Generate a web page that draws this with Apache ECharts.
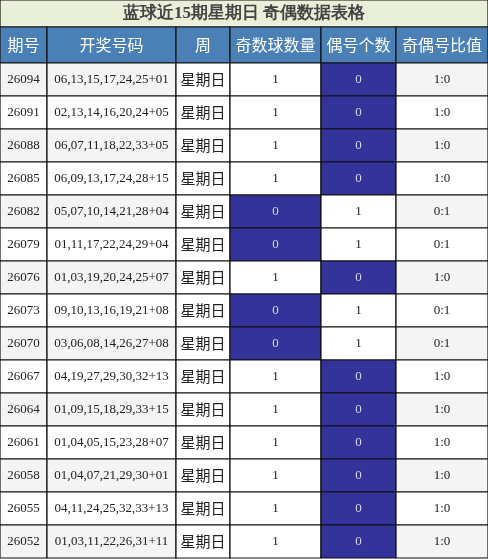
<!DOCTYPE html>
<html><head><meta charset="utf-8">
<script src="https://cdn.jsdelivr.net/npm/echarts@6/dist/echarts.min.js"></script>
<style>html,body{margin:0;padding:0;background:#fff}#c{width:488px;height:559px}</style>
</head><body><div id="c"></div>
<script>
const title = '蓝球近15期星期日 奇偶数据表格';
const headers = ['期号','开奖号码','周','奇数球数量','偶号个数','奇偶号比值'];
const issues = ['26094','26091','26088','26085','26082','26079','26076','26073','26070','26067','26064','26061','26058','26055','26052'];
const numbers = ['06,13,15,17,24,25+01','02,13,14,16,20,24+05','06,07,11,18,22,33+05','06,09,13,17,24,28+15','05,07,10,14,21,28+04','01,11,17,22,24,29+04','01,03,19,20,24,25+07','09,10,13,16,19,21+08','03,06,08,14,26,27+08','04,19,27,29,30,32+13','01,09,15,18,29,33+15','01,04,05,15,23,28+07','01,04,07,21,29,30+01','04,11,24,25,32,33+13','01,03,11,22,26,31+11'];
const weekday = '星期日';
const oddCounts = [1,1,1,1,0,0,1,0,0,1,1,1,1,1,1];
const evenCounts = [0,0,0,0,1,1,0,1,1,0,0,0,0,0,0];
const ratios = ['1:0','1:0','1:0','1:0','0:1','0:1','1:0','0:1','0:1','1:0','1:0','1:0','1:0','1:0','1:0'];

const colEdges = [0,47,176,230,321,396,488];
const W = 488, H = 559, titleH = 27, headH = 36, rowH = 33;
const serif = '"Liberation Serif","DejaVu Serif",serif';
const cjk = '"Noto Sans CJK SC",sans-serif';

const cells = [];
cells.push({kind:'title', c0:0, c1:6, r:-2, text:title});
headers.forEach((h,i)=>cells.push({kind:'head', c0:i, c1:i+1, r:-1, text:h}));
issues.forEach((_,r)=>{
  const alt = r%2===0;
  const vals = [issues[r], numbers[r], weekday, String(oddCounts[r]), String(evenCounts[r]), ratios[r]];
  vals.forEach((v,i)=>{
    let hi = (i===3 && oddCounts[r]===0) || (i===4 && evenCounts[r]===0);
    let bg = hi ? '#333399' : ((i===0||i===1||i===5) && alt ? '#f4f4f4' : '#ffffff');
    cells.push({kind: i===2 ? 'cjk' : 'body', c0:i, c1:i+1, r, text:v, bg, hi});
  });
});
function yTop(r){ return r===-2?0: r===-1?titleH : titleH+headH+r*rowH; }
function hOf(r){ return r===-2?titleH: r===-1?headH: rowH; }

const chart = echarts.init(document.getElementById('c'));
chart.setOption({
  animation:false,
  grid:{left:0,right:0,top:0,bottom:0},
  xAxis:{type:'value',min:0,max:W,show:false},
  yAxis:{type:'value',min:0,max:H,inverse:true,show:false},
  series:[{
    type:'custom',
    data: cells.map((c,i)=>[i]),
    renderItem:(params, api)=>{
      const c = cells[api.value(0)];
      const p0 = api.coord([colEdges[c.c0], yTop(c.r)]);
      const p1 = api.coord([colEdges[c.c1], yTop(c.r)+hOf(c.r)]);
      let fill, tc, font, fw='normal', fs;
      if(c.kind==='title'){fill='#e9efd9';tc='#444';font=serif;fw='bold';fs=17;}
      else if(c.kind==='head'){fill='#4a80b5';tc='#fff';font=cjk;fs=16;}
      else {fill=c.bg;tc=c.hi?'#d8d8e8':'#222';font=c.kind==='cjk'?cjk:serif;fs=c.kind==='cjk'?15:13;}
      return {type:'group',children:[
        {type:'rect',shape:{x:p0[0],y:p0[1],width:p1[0]-p0[0],height:p1[1]-p0[1]},
         style:{fill,stroke:'#111',lineWidth:1.2}},
        {type:'text',style:{x:(p0[0]+p1[0])/2,y:(p0[1]+p1[1])/2,text:c.text,fill:tc,
          font: fw+' '+fs+'px '+font, align:'center',verticalAlign:'middle'}}
      ]};
    }
  }]
});
</script></body></html>
